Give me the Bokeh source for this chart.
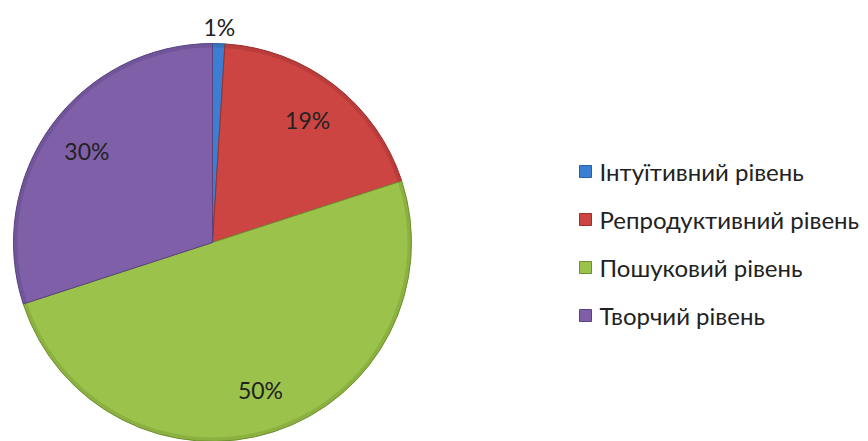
import math
from bokeh.plotting import figure
from bokeh.models import Range1d, ColumnDataSource
from bokeh.core.properties import value
from bokeh.embed import file_html
from bokeh.resources import INLINE

categories = ["Інтуїтивний рівень", "Репродуктивний рівень", "Пошуковий рівень", "Творчий рівень"]
values = [1, 19, 50, 30]
labels = ["1%", "19%", "50%", "30%"]
colors = ["#3C7FD2", "#CD4542", "#9BC34B", "#7F60A8"]
edges = ["#2A5E9E", "#9A2F2D", "#6F8F30", "#5A4280"]

W, H = 868, 441
# data coords == pixel coords of the picture (y flipped)
p = figure(width=W, height=H, output_backend="svg", toolbar_location=None,
           x_range=Range1d(0, W), y_range=Range1d(441 - H, 441),
           min_border=0, outline_line_color=None)
p.axis.visible = False
p.grid.visible = False
p.background_fill_color = "white"

cx, cy, r = 212, 441 - 242, 199
total = sum(values)
starts, ends, mids = [], [], []
cum = 0
for v in values:
    a0 = math.pi / 2 - 2 * math.pi * cum / total
    cum += v
    a1 = math.pi / 2 - 2 * math.pi * cum / total
    starts.append(a0)
    ends.append(a1)
    mids.append((a0 + a1) / 2)

src = ColumnDataSource(dict(start=starts, end=ends, color=colors, edge=edges))
p.wedge(x=cx, y=cy, radius=r, start_angle="start", end_angle="end", direction="clock",
        fill_color="color", line_color="edge", line_width=1, source=src)
# darker outer rim for bevel look
p.annular_wedge(x=cx, y=cy, inner_radius=r - 4, outer_radius=r, start_angle="start", end_angle="end",
                direction="clock", fill_color="edge", fill_alpha=0.35, line_color=None, source=src)

# data labels
lx, ly = [], []
for v, m in zip(values, mids):
    rr = r + 17 if v / total < 0.05 else 0.78 * r
    lx.append(cx + rr * math.cos(m))
    ly.append(cy + rr * math.sin(m))
lsrc = ColumnDataSource(dict(x=lx, y=ly, t=labels))
p.text(x="x", y="y", text="t", source=lsrc, text_font=value("Lato"), text_font_size="23px",
       text_align="center", text_baseline="middle", text_color="#222222")

# legend
leg_y = [441 - yy for yy in (171, 219, 267, 315)]
gsrc = ColumnDataSource(dict(y=leg_y, color=colors, edge=edges, t=categories))
p.scatter(x=585, y="y", marker="square", size=12, fill_color="color", line_color="edge", source=gsrc)
p.text(x=599, y="y", text="t", source=gsrc, text_font=value("Lato"), text_font_size="24px",
       text_align="left", text_baseline="middle", text_color="#222222")

open("out.html", "w").write(file_html(p, INLINE))
